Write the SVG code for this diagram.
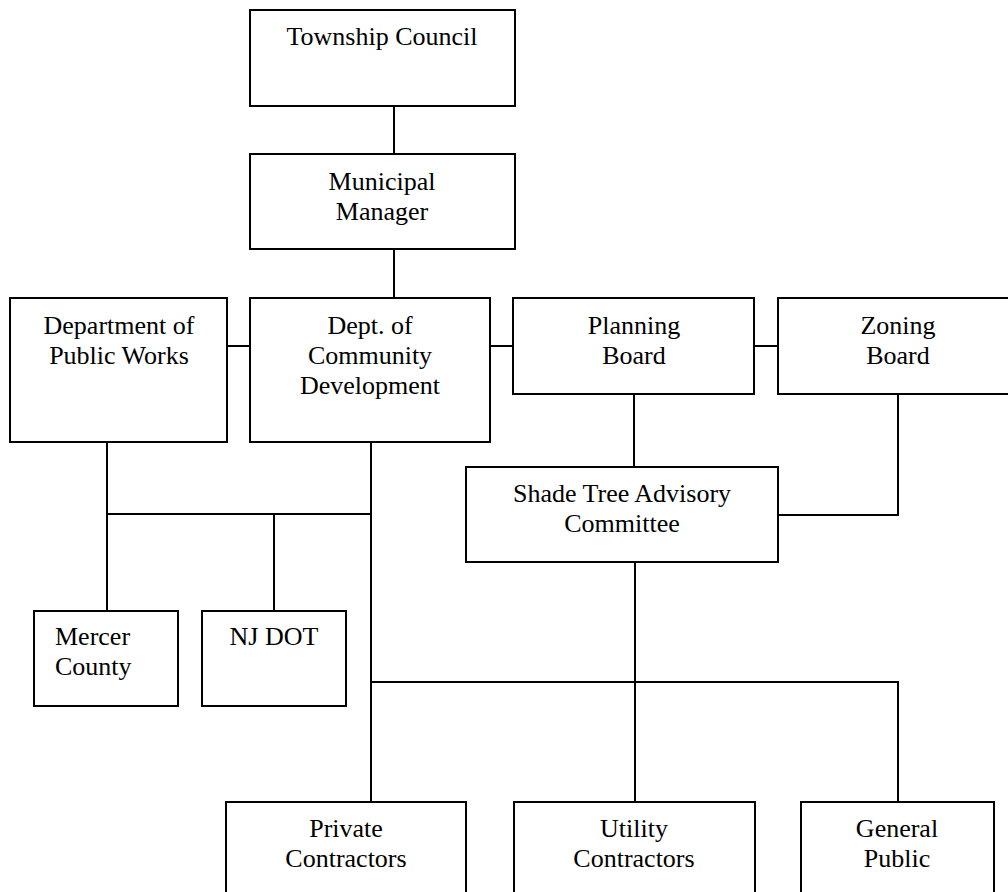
<svg xmlns="http://www.w3.org/2000/svg" width="1008" height="892" viewBox="0 0 1008 892">
<style>
.box{fill:#fff;stroke:#000;stroke-width:2}
.ln{stroke:#000;stroke-width:2;fill:none}
text{font-family:"Liberation Serif","Times New Roman",serif;font-size:26px;fill:#000;text-anchor:middle}
</style>
<rect width="1008" height="892" fill="#fff"/>
<g id="connectors">
<line class="ln" x1="394" y1="106" x2="394" y2="154"/>
<line class="ln" x1="394" y1="249" x2="394" y2="298"/>
<line class="ln" x1="227" y1="346" x2="250" y2="346"/>
<line class="ln" x1="490" y1="346" x2="513" y2="346"/>
<line class="ln" x1="754" y1="346" x2="778" y2="346"/>
<line class="ln" x1="634" y1="394" x2="634" y2="467"/>
<polyline class="ln" points="898,394 898,515 778,515"/>
<line class="ln" x1="107" y1="442" x2="107" y2="611"/>
<line class="ln" x1="106" y1="514" x2="371" y2="514"/>
<line class="ln" x1="274" y1="514" x2="274" y2="611"/>
<line class="ln" x1="371" y1="442" x2="371" y2="802"/>
<line class="ln" x1="635" y1="562" x2="635" y2="802"/>
<polyline class="ln" points="371,682 898,682 898,802"/>
</g>
<g id="township-council"><rect class="box" x="250" y="10" width="265" height="96"/><text x="382" y="45">Township Council</text></g>
<g id="municipal-manager"><rect class="box" x="250" y="154" width="265" height="95"/><text x="382" y="190">Municipal</text><text x="382" y="220">Manager</text></g>
<g id="public-works"><rect class="box" x="10" y="298" width="217" height="144"/><text x="119" y="334">Department of</text><text x="119" y="364">Public Works</text></g>
<g id="community-development"><rect class="box" x="250" y="298" width="240" height="144"/><text x="370" y="334">Dept. of</text><text x="370" y="364">Community</text><text x="370" y="394">Development</text></g>
<g id="planning-board"><rect class="box" x="513" y="298" width="241" height="96"/><text x="634" y="334">Planning</text><text x="634" y="364">Board</text></g>
<g id="zoning-board"><rect class="box" x="778" y="298" width="240" height="96"/><text x="898" y="334">Zoning</text><text x="898" y="364">Board</text></g>
<g id="shade-tree"><rect class="box" x="466" y="467" width="312" height="95"/><text x="622" y="502">Shade Tree Advisory</text><text x="622" y="532">Committee</text></g>
<g id="mercer-county"><rect class="box" x="34" y="611" width="144" height="95"/><text x="55" y="645" style="text-anchor:start">Mercer</text><text x="55" y="675" style="text-anchor:start">County</text></g>
<g id="nj-dot"><rect class="box" x="202" y="611" width="144" height="95"/><text x="274" y="645">NJ DOT</text></g>
<g id="private-contractors"><rect class="box" x="226" y="802" width="240" height="100"/><text x="346" y="837">Private</text><text x="346" y="867">Contractors</text></g>
<g id="utility-contractors"><rect class="box" x="514" y="802" width="241" height="100"/><text x="634" y="837">Utility</text><text x="634" y="867">Contractors</text></g>
<g id="general-public"><rect class="box" x="801" y="802" width="193" height="100"/><text x="897" y="837">General</text><text x="897" y="867">Public</text></g>
</svg>
